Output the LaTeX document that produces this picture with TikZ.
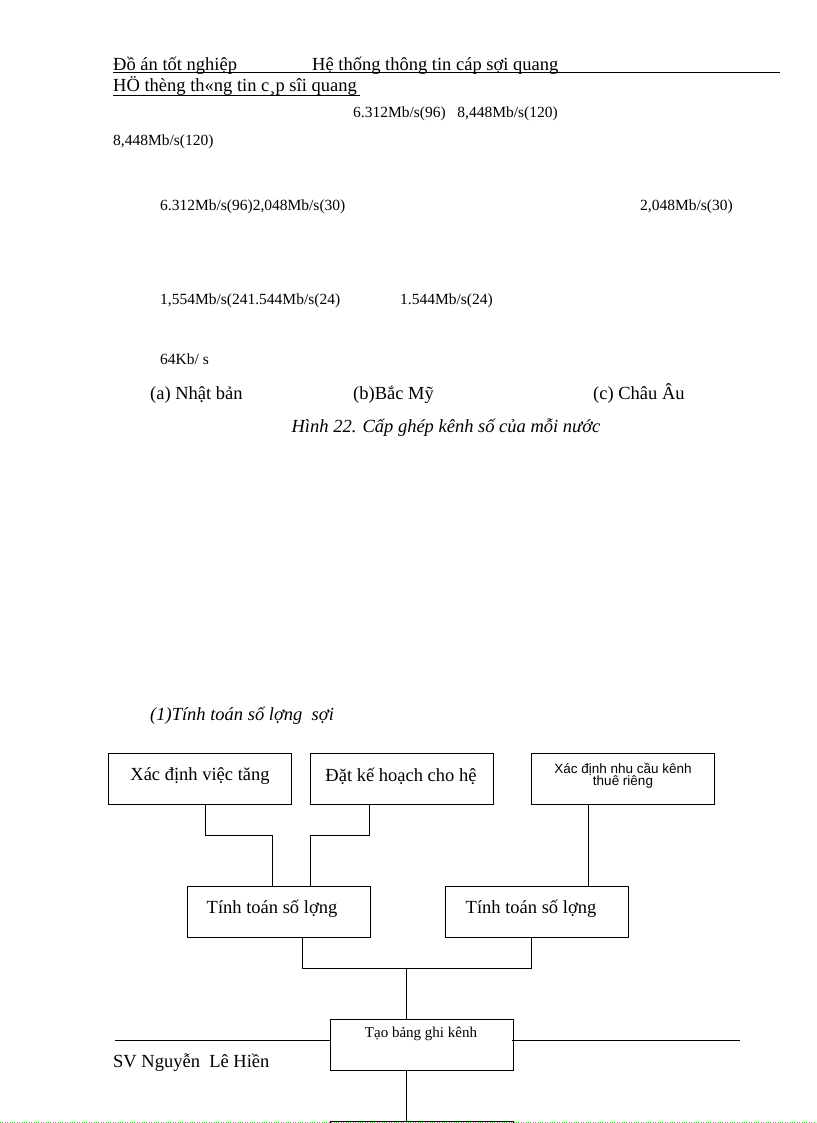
\documentclass[tikz,border=0pt]{standalone}
\usepackage{fontspec}
\setmainfont{Liberation Serif}
\newfontfamily\sansf{Liberation Sans}
\begin{document}
\begin{tikzpicture}[x=1pt,y=-1pt,
  box/.style={draw,line width=1pt,minimum width=183pt,minimum height=51pt,anchor=north west,inner sep=0pt},
  t/.style={anchor=base west,inner sep=0pt,font=\fontsize{15.5}{17}\selectfont},
  big/.style={font=\fontsize{18.5}{20}\selectfont},
  ln/.style={line width=1pt}]
\useasboundingbox (0,0) rectangle (816,1123);
\node[t,big] (h1) at (113,71) {Đồ án tốt nghiệp};
\node[t,big] (h2) at (312,71) {Hệ thống thông tin cáp sợi quang};
\draw[ln] (113,73) -- (780,73);
\node[t,big] (h3) at (113,92) {HÖ thèng th«ng tin c¸p sîi quang};
\draw (113,95) -- (360,95);
\node[t] (a1) at (353,118) {6.312Mb/s(96) \ \ 8,448Mb/s(120)};
\node[t] (a2) at (113,146) {8,448Mb/s(120)};
\node[t] (a3) at (160,211) {6.312Mb/s(96)2,048Mb/s(30)};
\node[t] (a4) at (640,211) {2,048Mb/s(30)};
\node[t] (a5) at (160,304) {1,554Mb/s(241.544Mb/s(24)};
\node[t] (a6) at (400,304) {1.544Mb/s(24)};
\node[t] (a7) at (160,364) {64Kb/ s};
\node[t,big] (c1) at (150,399) {(a) Nhật bản};
\node[t,big] (c2) at (353,399) {(b)Bắc Mỹ};
\node[t,big] (c3) at (593,399) {(c) Châu Âu};
\node[anchor=base,inner sep=0pt,font=\fontsize{18.5}{20}\selectfont\itshape] (cap) at (446,432) {Hình 22. Cấp ghép kênh số của mỗi nước};
\node[t,font=\fontsize{18.5}{20}\selectfont\itshape] (s1) at (150,720) {(1)Tính toán số lợng \ sợi};
\node[box] (b1) at (108,753) {};
\node[big] at (200,776) {Xác định việc tăng};
\node[box] (b2) at (310,753) {};
\node[big] at (401,776) {Đặt kế hoạch cho hệ};
\node[box] (b3) at (531,753) {};
\node[font=\fontsize{13.5}{15}\selectfont\sansf,align=center] at (623,776) {Xác định nhu cầu kênh\\[-3pt]thuê riêng};
\node[box] (b4) at (187,886) {};
\node[big] at (272,909) {Tính toán số lợng};
\node[box] (b5) at (445,886) {};
\node[big] at (531,909) {Tính toán số lợng};
\node[box] (b6) at (330,1019) {};
\node[font=\fontsize{15}{16}\selectfont] at (421,1034) {Tạo bảng ghi kênh};
\node[box] (b7) at (330,1121) {};
\draw[ln] (205,804) -- (205,835) -- (272,835) -- (272,886);
\draw[ln] (369,804) -- (369,835) -- (310,835) -- (310,886);
\draw[ln] (588,804) -- (588,886);
\draw[ln] (302,937) -- (302,968) -- (531,968) -- (531,937);
\draw[ln] (406,968) -- (406,1019);
\draw[ln] (406,1070) -- (406,1121);
\draw[ln] (115,1040) -- (330,1040);
\draw[ln] (512,1040) -- (740,1040);
\node[t,big] (sv) at (113,1067) {SV Nguyễn \ Lê Hiền};
\draw[green!50!gray,dotted] (0,1122) -- (816,1122);
\end{tikzpicture}
\end{document}
